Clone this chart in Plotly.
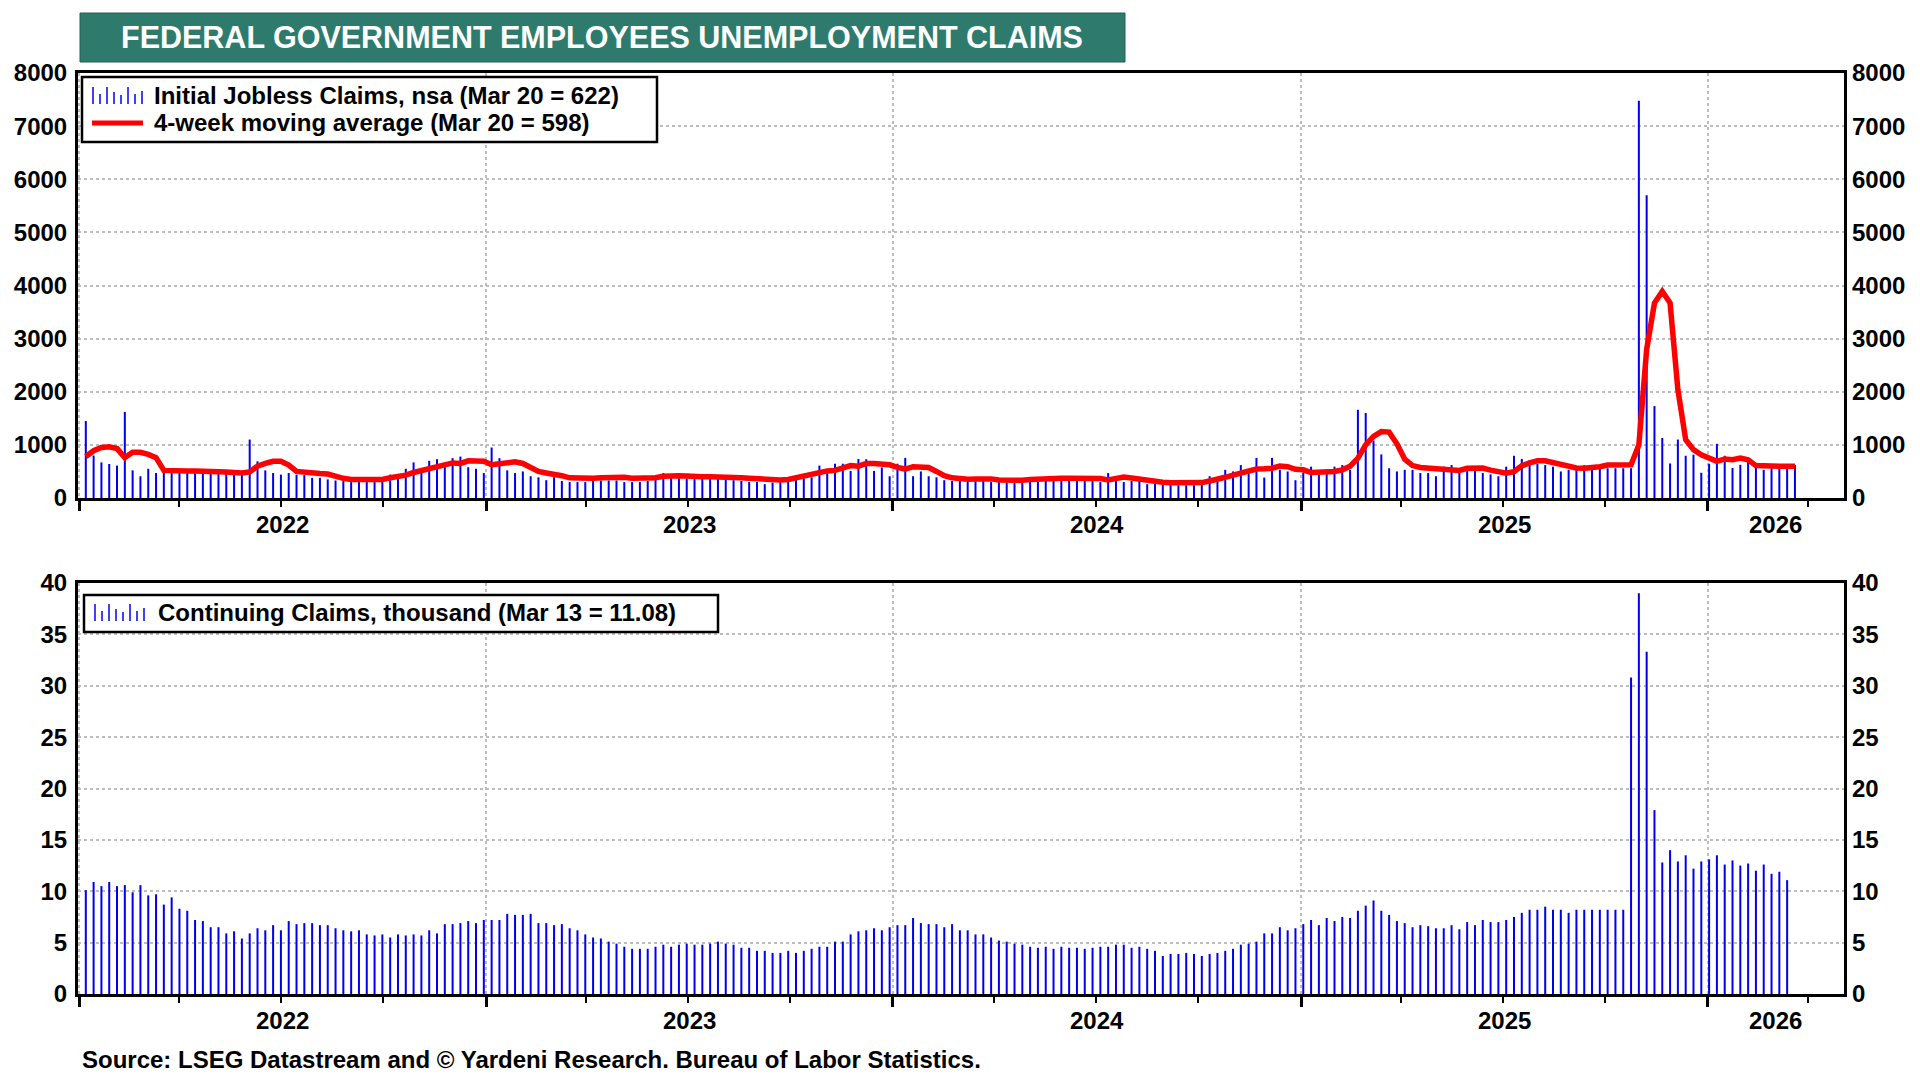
import pandas as pd
import plotly.graph_objects as go

# weekly data (initial claims ends Mar 20 2026, continuing ends Mar 13 2026)
initial_claims = [
    1450, 800, 670, 640, 610, 1620, 520, 410, 550, 470,
    480, 500, 510, 500, 495, 505, 480, 490, 470, 460,
    480, 1100, 690, 520, 470, 440, 470, 440, 430, 380,
    380, 350, 330, 320, 300, 300, 300, 300, 380, 440,
    450, 550, 670, 550, 700, 730, 580, 750, 780, 580,
    550, 470, 950, 750, 520, 470, 500, 410, 390, 335,
    390, 320, 300, 300, 300, 320, 330, 330, 330, 300,
    300, 300, 320, 400, 470, 410, 370, 370, 390, 445,
    390, 370, 355, 335, 320, 300, 300, 260, 290, 300,
    370, 430, 445, 390, 610, 510, 645, 645, 510, 735,
    730, 510, 575, 410, 645, 755, 410, 500, 410, 390,
    335, 320, 320, 320, 320, 320, 300, 300, 300, 300,
    300, 385, 300, 320, 320, 320, 410, 320, 320, 320,
    300, 470, 320, 300, 320, 320, 260, 270, 260, 260,
    240, 240, 240, 335, 410, 385, 530, 500, 620, 470,
    755, 385, 755, 530, 500, 335, 480, 590, 500, 500,
    590, 620, 530, 1660, 1600, 1080, 820, 560, 500, 530,
    530, 470, 470, 410, 590, 620, 500, 530, 530, 470,
    445, 410, 590, 795, 735, 710, 645, 620, 590, 500,
    530, 530, 620, 620, 560, 560, 560, 560, 560, 7480,
    5700, 1730, 1130, 650, 1100, 795, 815, 475, 645, 1020,
    795, 565, 625, 715, 565, 530, 565, 640, 590, 622,
]

moving_avg = [
    780, 890, 950, 965, 930, 760, 860, 860, 820, 760,
    520, 510, 510, 510, 510, 510, 510, 510, 490, 480,
    470, 490, 600, 650, 690, 690, 620, 500, 480, 480,
    460, 450, 400, 370, 350, 345, 345, 345, 350, 380,
    400, 430, 480, 520, 550, 580, 620, 660, 650, 700,
    695, 690, 625, 650, 670, 680, 650, 560, 500, 470,
    450, 420, 380, 370, 370, 370, 380, 390, 390, 390,
    370, 370, 370, 380, 410, 425, 420, 415, 400, 400,
    400, 400, 400, 400, 380, 370, 360, 335, 335, 340,
    350, 385, 410, 430, 465, 510, 520, 565, 610, 600,
    650, 650, 630, 625, 575, 545, 590, 575, 575, 500,
    420, 380, 360, 355, 360, 370, 360, 340, 335, 335,
    335, 350, 360, 370, 370, 370, 370, 370, 370, 370,
    365, 340, 370, 395, 375, 350, 325, 310, 295, 285,
    285, 285, 285, 290, 320, 345, 390, 430, 470, 500,
    545, 550, 560, 600, 590, 540, 530, 480, 480, 480,
    500, 530, 600, 750, 1000, 1160, 1250, 1240, 1020, 730,
    610, 575, 560, 545, 540, 510, 520, 560, 570, 565,
    525, 490, 465, 497, 606, 660, 700, 700, 670, 625,
    590, 565, 560, 565, 590, 620, 625, 625, 625, 1000,
    2800, 3670, 3890, 3670, 2040, 1100, 910, 815, 755, 690,
    735, 720, 750, 720, 610, 598, 598, 598, 598, 598,
]

continuing_claims = [
    10.1, 10.9, 10.5, 10.9, 10.5, 10.6, 9.9, 10.6, 9.6, 9.7,
    8.7, 9.4, 8.3, 8.1, 7.2, 7.1, 6.5, 6.5, 5.9, 6.1,
    5.4, 5.9, 6.4, 6.2, 6.7, 6.2, 7.1, 6.8, 6.9, 6.9,
    6.7, 6.7, 6.4, 6.2, 6.1, 6.2, 5.8, 5.7, 5.8, 5.5,
    5.8, 5.7, 5.8, 5.7, 6.2, 5.9, 6.8, 6.8, 6.9, 7.1,
    6.9, 7.2, 7.2, 7.2, 7.8, 7.7, 7.7, 7.8, 6.9, 6.9,
    6.7, 6.8, 6.4, 6.2, 5.8, 5.5, 5.4, 5.1, 4.9, 4.6,
    4.4, 4.4, 4.4, 4.6, 4.8, 4.6, 4.8, 4.9, 4.8, 4.8,
    4.9, 5.1, 4.9, 4.8, 4.5, 4.5, 4.2, 4.2, 4.0, 4.0,
    4.2, 4.0, 4.2, 4.4, 4.6, 4.6, 5.1, 5.1, 5.8, 6.1,
    6.2, 6.4, 6.2, 6.5, 6.7, 6.7, 7.4, 6.9, 6.8, 6.8,
    6.5, 6.8, 6.2, 6.2, 5.8, 5.8, 5.5, 5.2, 5.1, 4.9,
    4.8, 4.6, 4.5, 4.6, 4.4, 4.6, 4.5, 4.5, 4.4, 4.5,
    4.6, 4.6, 4.8, 4.8, 4.5, 4.6, 4.4, 4.2, 3.7, 3.9,
    3.9, 4.0, 3.9, 3.7, 3.9, 4.0, 4.2, 4.4, 4.8, 4.9,
    5.1, 5.9, 5.9, 6.5, 6.2, 6.4, 6.8, 7.2, 6.7, 7.4,
    7.1, 7.5, 7.4, 8.1, 8.6, 9.1, 8.1, 7.7, 7.1, 6.9,
    6.5, 6.7, 6.6, 6.4, 6.4, 6.7, 6.3, 7.0, 6.7, 7.2,
    7.0, 7.0, 7.2, 7.5, 7.9, 8.2, 8.2, 8.5, 8.2, 8.2,
    7.9, 8.2, 8.2, 8.2, 8.2, 8.2, 8.2, 8.2, 30.8, 39.0,
    33.3, 17.9, 12.8, 14.0, 12.9, 13.5, 12.2, 12.9, 13.1, 13.5,
    12.6, 13.0, 12.5, 12.7, 12.0, 12.6, 11.7, 11.9, 11.08,
]

dates = pd.date_range(end="2026-03-20", periods=len(initial_claims), freq="7D")
cc_dates = dates[:len(continuing_claims)]

years = ["2022", "2023", "2024", "2025", "2026"]
x_start = pd.Timestamp("2021-12-31")
x_end = pd.Timestamp("2026-05-03")

title = "FEDERAL GOVERNMENT EMPLOYEES UNEMPLOYMENT CLAIMS"
legend_ic = "Initial Jobless Claims, nsa (Mar 20 = 622)"
legend_ma = "4-week moving average (Mar 20 = 598)"
legend_cc = "Continuing Claims, thousand (Mar 13 = 11.08)"
source = "Source: LSEG Datastream and \u00a9 Yardeni Research. Bureau of Labor Statistics."

BLUE = "#0000F0"
RED = "#FF0000"
TEAL = "#2E7B6E"
GRID = "#BDBDBD"
FONT = "Liberation Sans, Arial, sans-serif"

# page has an 8px body margin, so the figure is made 16px smaller and
# all layout positions below are given in page pixels
OFF = 8
W, H = 1920 - 2 * OFF, 1080 - 2 * OFF
PLOT_L, PLOT_R, PLOT_T, PLOT_B = 78, 1844, 73, 994
L = PLOT_L - OFF
T = PLOT_T - OFF
R = W - (PLOT_R - OFF)
B = H - (PLOT_B - OFF)


def px(x):
    return (x - PLOT_L) / (PLOT_R - PLOT_L)


def py(y):
    return (PLOT_B - y) / (PLOT_B - PLOT_T)


bar_w = 1.8 * 86400000

fig = go.Figure()
fig.add_trace(go.Bar(x=dates, y=initial_claims, width=bar_w, marker=dict(color=BLUE, line_width=0),
                     xaxis="x", yaxis="y", showlegend=False, hoverinfo="skip"))
fig.add_trace(go.Scatter(x=dates, y=moving_avg, mode="lines", line=dict(color=RED, width=5.5),
                         xaxis="x", yaxis="y", showlegend=False, hoverinfo="skip"))
fig.add_trace(go.Bar(x=cc_dates, y=continuing_claims, width=bar_w, marker=dict(color=BLUE, line_width=0),
                     xaxis="x2", yaxis="y2", showlegend=False, hoverinfo="skip"))
# invisible helpers so the right-hand axes get drawn
fig.add_trace(go.Scatter(x=[dates[0]], y=[0], mode="markers", marker=dict(opacity=0),
                         xaxis="x", yaxis="y3", showlegend=False, hoverinfo="skip"))
fig.add_trace(go.Scatter(x=[dates[0]], y=[0], mode="markers", marker=dict(opacity=0),
                         xaxis="x2", yaxis="y4", showlegend=False, hoverinfo="skip"))

tick_font = dict(family=FONT, size=24, color="black", weight="bold")
year_starts = [pd.Timestamp(y + "-01-01") for y in years]


def xaxis_style(anchor):
    return dict(type="date", anchor=anchor, range=[x_start, x_end], automargin=False,
                tickmode="array", tickvals=year_starts, showticklabels=False,
                ticks="outside", ticklen=10, tickwidth=2.5, tickcolor="black",
                showgrid=True, gridcolor=GRID, griddash="dot", gridwidth=2,
                showline=True, linecolor="black", linewidth=3, mirror=True, zeroline=False,
                minor=dict(dtick="M3", tick0="2022-01-01", ticks="outside", ticklen=6,
                           tickwidth=2, tickcolor="black", showgrid=False))


def yaxis_style(anchor, rng, dtick, domain, side="left", overlay=None):
    d = dict(anchor=anchor, range=rng, dtick=dtick, tick0=0, side=side, automargin=False,
             tickfont=tick_font, ticks="", zeroline=False)
    if overlay:
        d.update(overlaying=overlay, showgrid=False, showline=False, ticklabelstandoff=7)
    else:
        d.update(domain=domain, showgrid=True, gridcolor=GRID, griddash="dot", gridwidth=2,
                 showline=True, linecolor="black", linewidth=3, mirror=True, ticklabelstandoff=3)
    return d


top_dom = [py(498), 1.0]
bot_dom = [0.0, py(583)]

fig.update_layout(
    width=W, height=H,
    margin=dict(l=L, r=R, t=T, b=B, autoexpand=False),
    paper_bgcolor="white", plot_bgcolor="white",
    barmode="overlay", hovermode=False,
    xaxis=xaxis_style("y"),
    xaxis2=xaxis_style("y2"),
    yaxis=yaxis_style("x", [0, 8000], 1000, top_dom),
    yaxis2=yaxis_style("x2", [0, 40], 5, bot_dom),
    yaxis3=yaxis_style("x", [0, 8000], 1000, top_dom, side="right", overlay="y"),
    yaxis4=yaxis_style("x2", [0, 40], 5, bot_dom, side="right", overlay="y2"),
    font=dict(family=FONT, color="black"),
)

shapes = []
annotations = []

# title banner
shapes.append(dict(type="rect", xref="paper", yref="paper", x0=px(80), x1=px(1125), y0=py(62), y1=py(13),
                   fillcolor=TEAL, line=dict(color="#24604F", width=1), layer="above"))
annotations.append(dict(xref="paper", yref="paper", x=px(602), y=py(37), text=title, showarrow=False,
                        font=dict(family=FONT, size=30.5, color="white", weight="bold"),
                        xanchor="center", yanchor="middle"))

# legend boxes
shapes.append(dict(type="rect", xref="paper", yref="paper", x0=px(82), x1=px(657), y0=py(142), y1=py(77),
                   fillcolor="white", line=dict(color="black", width=2.5), layer="above"))
shapes.append(dict(type="rect", xref="paper", yref="paper", x0=px(84), x1=px(718), y0=py(632), y1=py(595),
                   fillcolor="white", line=dict(color="black", width=2.5), layer="above"))

icon_heights = [17, 10, 17, 12, 9, 17, 10, 13]


def bar_icon(x0, base):
    for k, h in enumerate(icon_heights):
        xx = x0 + k * 7
        shapes.append(dict(type="line", xref="paper", yref="paper", x0=px(xx), x1=px(xx),
                           y0=py(base), y1=py(base - h), line=dict(color=BLUE, width=1.5), layer="above"))


bar_icon(93, 104)
bar_icon(95, 621)
shapes.append(dict(type="line", xref="paper", yref="paper", x0=px(92), x1=px(143), y0=py(123), y1=py(123),
                   line=dict(color=RED, width=5), layer="above"))

leg_font = dict(family=FONT, size=24, color="black", weight="bold")
annotations.append(dict(xref="paper", yref="paper", x=px(152), y=py(95), text=legend_ic, showarrow=False,
                        xanchor="left", yanchor="middle", font=leg_font))
annotations.append(dict(xref="paper", yref="paper", x=px(152), y=py(122), text=legend_ma, showarrow=False,
                        xanchor="left", yanchor="middle", font=leg_font))
annotations.append(dict(xref="paper", yref="paper", x=px(156), y=py(612), text=legend_cc, showarrow=False,
                        xanchor="left", yanchor="middle", font=leg_font))

# year labels centred in the visible part of each year
for y in years:
    a = max(pd.Timestamp(y + "-01-01"), x_start)
    b = min(pd.Timestamp(str(int(y) + 1) + "-01-01"), x_end)
    mid = a + (b - a) / 2
    for xr, ypix in (("x", 524), ("x2", 1020)):
        annotations.append(dict(xref=xr, yref="paper", x=mid, y=py(ypix), text=y, showarrow=False,
                                xanchor="center", yanchor="middle", font=tick_font))

annotations.append(dict(xref="paper", yref="paper", x=px(80), y=py(1059), text=source, showarrow=False,
                        xanchor="left", yanchor="middle",
                        font=dict(family=FONT, size=24, color="black", weight="bold")))

fig.update_layout(shapes=shapes, annotations=annotations)

fig.write_html("out.html")
